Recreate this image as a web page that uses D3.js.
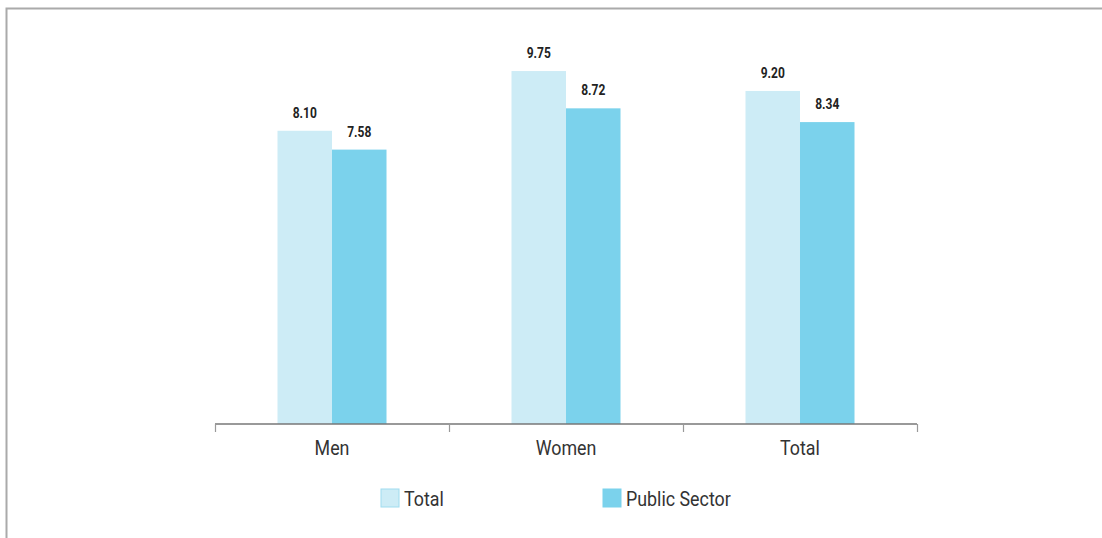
<!DOCTYPE html>
<html><head><meta charset="utf-8">
<script src="https://cdn.jsdelivr.net/npm/d3@7"></script>
<style>body{margin:0;background:#fff}</style>
</head><body>
<svg id="c" width="1102" height="538"></svg>
<script>
const categories = ["Men", "Women", "Total"];
const seriesNames = ["Total", "Public Sector"];
const totalValues = [8.10, 9.75, 9.20];
const publicValues = [7.58, 8.72, 8.34];
const colors = ["#cdecf6", "#7bd2ec"];

const svg = d3.select("#c");
const font = "Roboto, 'Liberation Sans', sans-serif";

// frame
svg.append("path").attr("d", "M6.5,538 V8.5 H1102").attr("fill", "none").attr("stroke", "#aaa").attr("stroke-width", 2);

const x = d3.scaleBand().domain(categories).range([215, 917]).paddingInner(0).paddingOuter(0);
const xs = d3.scaleBand().domain(seriesNames).range([0, 109]);
const y = d3.scaleLinear().domain([0, 10]).range([424, 62]);

function condText(sel, tx, ty, sx) {
  return sel.append("text").attr("transform", `translate(${tx},${ty}) scale(${sx},1)`);
}

const data = categories.map((c, i) => ({cat: c, vals: [totalValues[i], publicValues[i]]}));

const g = svg.append("g");
data.forEach(d => {
  const x0 = x(d.cat) + (x.bandwidth() - 109) / 2;
  d.vals.forEach((v, j) => {
    g.append("rect").attr("x", x0 + xs(seriesNames[j])).attr("y", y(v))
      .attr("width", xs.bandwidth()).attr("height", y(0) - y(v)).attr("fill", colors[j]);
    condText(g, x0 + xs(seriesNames[j]) + xs.bandwidth() / 2, y(v) - 13, 0.8)
      .attr("text-anchor", "middle").attr("font-family", font).attr("font-weight", "bold")
      .attr("font-size", 15).attr("fill", "#222").text(v.toFixed(2));
  });
});

// axis
const ax = svg.append("g").attr("transform", "translate(0,424)");
ax.append("line").attr("x1", 215).attr("x2", 917).attr("stroke", "#777").attr("stroke-width", 1.5);
const tickPos = categories.map(c => x(c)).concat([x.range()[1]]);
tickPos.forEach(t => ax.append("line").attr("x1", t + 0.5).attr("x2", t + 0.5).attr("y1", 0).attr("y2", 8).attr("stroke", "#999").attr("stroke-width", 1.2));
categories.forEach(c => condText(ax, x(c) + x.bandwidth() / 2, 31, 0.85)
  .attr("text-anchor", "middle").attr("font-family", font).attr("font-size", 21).attr("fill", "#333").text(c));

// legend
const legX = [381, 603];
seriesNames.forEach((s, j) => {
  svg.append("rect").attr("x", legX[j]).attr("y", 489).attr("width", 18).attr("height", 18)
    .attr("fill", colors[j]).attr("stroke", j === 0 ? "#9fdcef" : colors[j]).attr("stroke-width", 1);
  condText(svg, legX[j] + 23, 506, 0.85).attr("font-family", font)
    .attr("font-size", 21).attr("fill", "#333").text(s);
});
</script>
</body></html>
